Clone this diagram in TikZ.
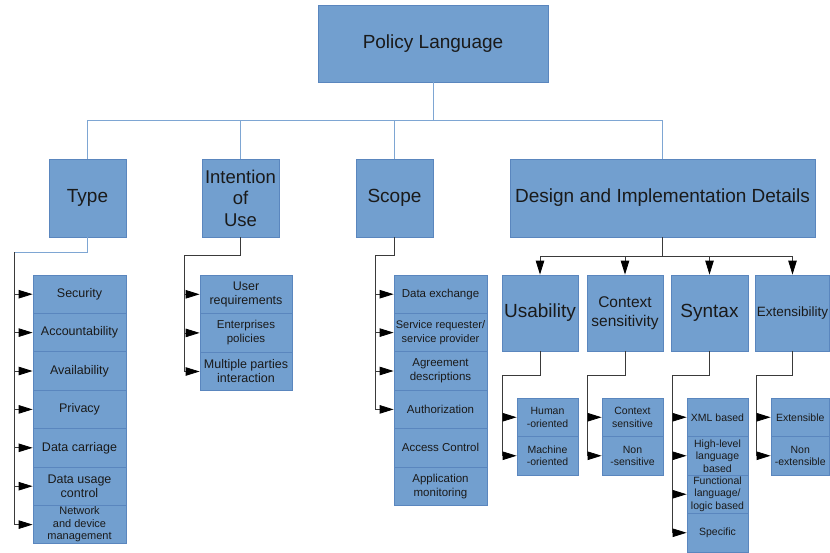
\documentclass[tikz,border=0pt]{standalone}
\usepackage{fontspec}
\setmainfont{Liberation Sans}
\usetikzlibrary{arrows.meta}
\definecolor{boxfill}{HTML}{729FCF}
\definecolor{boxline}{HTML}{5A86BE}
\definecolor{treeline}{HTML}{7EA6D3}
\definecolor{stemline}{HTML}{3A3A3A}
\definecolor{txt}{HTML}{1A1A1A}
\tikzset{
  box/.style={draw=boxline, line width=0.8pt, fill=boxfill, text=txt, inner sep=0pt, align=center, rectangle},
  bigbox/.style={box, font=\fontsize{19}{22}\selectfont},
  leaf/.style={box, minimum width=93pt, minimum height=38.4pt, font=\fontsize{12.5}{14}\selectfont},
  smallleaf/.style={box, minimum width=61pt, minimum height=38.5pt, font=\fontsize{10.5}{12.5}\selectfont},
  treelink/.style={draw=treeline, line width=0.8pt},
  stemlink/.style={draw=stemline, line width=0.8pt},
  arrowlink/.style={stemlink, arrows={-Triangle[length=14pt,width=8.5pt,fill=black,color=black]}},
}
\begin{document}
\begin{tikzpicture}[x=1pt,y=-1pt]
\useasboundingbox (0,0) rectangle (830,552);
% top level
\node[bigbox, minimum width=230pt, minimum height=77pt] (root) at (433,43.5) {Policy Language};
\node[bigbox, minimum width=77pt, minimum height=78pt] (type) at (87.5,198) {Type};
\node[bigbox, minimum width=77pt, minimum height=78pt, font=\fontsize{18.5}{21.5}\selectfont] (intent) at (240.5,198) {Intention\\of\\Use};
\node[bigbox, minimum width=77pt, minimum height=78pt] (scope) at (394.5,198) {Scope};
\node[bigbox, minimum width=305pt, minimum height=78pt] (design) at (662.5,198) {Design and Implementation Details};
% design children
\node[bigbox, minimum width=76pt, minimum height=76pt] (usab) at (540,313) {Usability};
\node[bigbox, minimum width=76pt, minimum height=76pt, font=\fontsize{15.5}{19}\selectfont] (ctx) at (625,313) {Context\\sensitivity};
\node[bigbox, minimum width=77pt, minimum height=76pt] (syn) at (709.5,313) {Syntax};
\node[bigbox, minimum width=74pt, minimum height=76pt, font=\fontsize{13.5}{16}\selectfont] (ext) at (792.5,313) {Extensibility};
% type children
\node[leaf] (t1) at (79.5,294.2) {Security};
\node[leaf] (t2) at (79.5,332.6) {Accountability};
\node[leaf] (t3) at (79.5,371.0) {Availability};
\node[leaf] (t4) at (79.5,409.4) {Privacy};
\node[leaf] (t5) at (79.5,447.8) {Data carriage};
\node[leaf] (t6) at (79.5,486.2) {Data usage\\control};
\node[leaf, font=\fontsize{11}{12.5}\selectfont] (t7) at (79.5,524.6) {Network\\and device\\management};
% intention children
\node[leaf, minimum width=92pt, minimum height=38.6pt] (i1) at (246,294.3) {User\\requirements};
\node[leaf, minimum width=92pt, minimum height=38.6pt, font=\fontsize{11.5}{14}\selectfont] (i2) at (246,332.9) {Enterprises\\policies};
\node[leaf, minimum width=92pt, minimum height=38.6pt] (i3) at (246,371.5) {Multiple parties\\interaction};
% scope children
\node[leaf, font=\fontsize{11.5}{14}\selectfont] (s1) at (440.5,294.2) {Data exchange};
\node[leaf, font=\fontsize{11}{13.5}\selectfont] (s2) at (440.5,332.6) {Service requester/\\service provider};
\node[leaf, font=\fontsize{11.5}{14}\selectfont] (s3) at (440.5,371.0) {Agreement\\descriptions};
\node[leaf, font=\fontsize{11.5}{14}\selectfont] (s4) at (440.5,409.4) {Authorization};
\node[leaf, font=\fontsize{11.5}{14}\selectfont] (s5) at (440.5,447.8) {Access Control};
\node[leaf, font=\fontsize{11.5}{14}\selectfont] (s6) at (440.5,486.2) {Application\\monitoring};
% usability children
\node[smallleaf] (u1) at (547.5,417.25) {Human\\-oriented};
\node[smallleaf] (u2) at (547.5,455.75) {Machine\\-oriented};
% context children
\node[smallleaf] (c1) at (632.5,417.25) {Context\\sensitive};
\node[smallleaf] (c2) at (632.5,455.75) {Non\\-sensitive};
% syntax children
\node[smallleaf] (y1) at (717.5,417.25) {XML based};
\node[smallleaf] (y2) at (717.5,455.75) {High-level\\language\\based};
\node[smallleaf] (y3) at (717.5,494.25) {Functional\\language/\\logic based};
\node[smallleaf] (y4) at (717.5,532.75) {Specific};
% extensibility children
\node[smallleaf, minimum width=58.5pt] (e1) at (800.25,417.25) {Extensible};
\node[smallleaf, minimum width=58.5pt] (e2) at (800.25,455.75) {Non\\-extensible};

% top tree
\path[treelink] (root.south) -- ++(0,38) -| (type.north);
\path[treelink] (root.south) -- ++(0,38) -| (intent.north);
\path[treelink] (root.south) -- ++(0,38) -| (scope.north);
\path[treelink] (root.south) -- ++(0,38) -| (design.north);

% type
\coordinate (tT) at (14,252);
\path[treelink] (type.south) |- (tT);
\path[stemlink] (tT) -- (tT |- t7.west);
\foreach \n in {t1,t2,t3,t4,t5,t6,t7} \draw[arrowlink] (tT |- \n.west) -- (\n.west);
% intention
\coordinate (iT) at (184,255);
\path[stemlink] (intent.south) |- (iT) -- (iT |- i3.west);
\foreach \n in {i1,i2,i3} \draw[arrowlink] (iT |- \n.west) -- (\n.west);
% scope
\coordinate (sT) at (375,255);
\path[stemlink] (scope.south) |- (sT) -- (sT |- s4.west);
\foreach \n in {s1,s2,s3,s4} \draw[arrowlink] (sT |- \n.west) -- (\n.west);
% design
\coordinate (dB) at (662.5,256);
\path[stemlink] (design.south) -- (dB);
\foreach \n in {usab,ctx,syn,ext} \draw[arrowlink] (dB) -| (\n.north);
% usability
\coordinate (uT) at (502,375);
\path[stemlink] (usab.south) |- (uT) -- (uT |- u2.west);
\foreach \n in {u1,u2} \draw[arrowlink] (uT |- \n.west) -- (\n.west);
% context
\coordinate (cT) at (587,375);
\path[stemlink] (ctx.south) |- (cT) -- (cT |- c2.west);
\foreach \n in {c1,c2} \draw[arrowlink] (cT |- \n.west) -- (\n.west);
% syntax
\coordinate (yT) at (672,375);
\path[stemlink] (syn.south) |- (yT) -- (yT |- y4.west);
\foreach \n in {y1,y2,y3,y4} \draw[arrowlink] (yT |- \n.west) -- (\n.west);
% extensibility
\coordinate (eT) at (756,375);
\path[stemlink] (ext.south) |- (eT) -- (eT |- e2.west);
\foreach \n in {e1,e2} \draw[arrowlink] (eT |- \n.west) -- (\n.west);
\end{tikzpicture}
\end{document}
